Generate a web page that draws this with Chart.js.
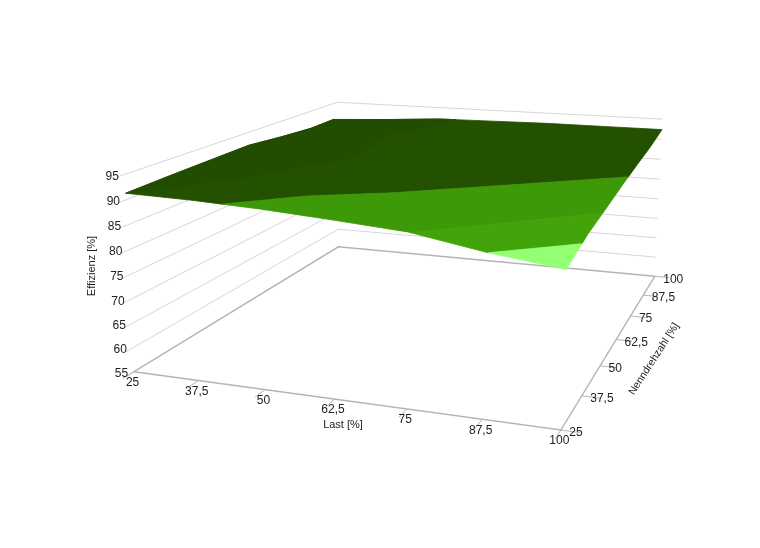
<!DOCTYPE html>
<html>
<head>
<meta charset="utf-8">
<title>Effizienz</title>
<script src="https://cdn.jsdelivr.net/npm/chart.js@4"></script>
<style>
  html, body { margin: 0; padding: 0; background: #fff; }
  canvas { display: block; }
</style>
</head>
<body>
<canvas id="chart" width="760" height="548"></canvas>
<script>
// axis ticks
const lastTicks = [25, 37.5, 50, 62.5, 75, 87.5, 100];
const speedTicks = [25, 37.5, 50, 62.5, 75, 87.5, 100];
const effTicks = [55, 60, 65, 70, 75, 80, 85, 90, 95];

// efficiency, one row per speed tick, one column per load tick
const effRow25 = [91.3, 91.0, 90.4, 89.5, 88.5, 86.1, 84.3];
const effRow37 = [91.6, 91.5, 91.2, 90.7, 90.0, 88.5, 86.4];
const effRow50 = [91.8, 91.8, 91.6, 91.2, 90.6, 89.5, 87.6];
const effRow62 = [92.0, 92.0, 91.9, 91.6, 91.2, 90.2, 88.9];
const effRow75 = [91.2, 91.8, 92.0, 91.9, 91.6, 90.8, 90.0];
const effRow87 = [90.6, 91.4, 92.0, 92.1, 92.0, 91.6, 91.0];
const effRow100 = [90.3, 91.1, 92.0, 92.2, 92.4, 92.4, 92.4];
const effGrid = [effRow25, effRow37, effRow50, effRow62, effRow75, effRow87, effRow100];

// colour bands on the surface as [load, speed] outlines
const bandDark = [[25,25],[37.5,25],[43,25],[53.5,33.5],[66,40],[100,67],[100,75],[100,87.5],[100,100],
  [87.5,100],[75,100],[62.5,100],[50,100],[37.5,100],[24,100],[25,87.5],[25,75],[25,62.5],[25,50],[25,37.5]];
const bandDarker = [[25,25],[37.5,39],[49,58],[47,80],[54,100],[50,100],[37.5,100],[24,100],
  [25,87.5],[25,75],[25,62.5],[25,50],[25,37.5]];
const bandMid = [[43,25],[50,25],[62.5,25],[75,25],[75.5,25],[100,47.5],[100,50],[100,62.5],[100,67],[66,40],[53.5,33.5]];
const bandBright = [[75.5,25],[87.5,25],[88,25],[100,34],[100,37.5],[100,47.5]];
const bandLight = [[88,25],[100,25],[100,34]];

// where known 3d points land on the page, used to fit the camera: load, speed, eff, px, py, weight
const camPoints = [
  [25,25,55,135,372,4],[37.5,25,55,195,380,1],[50,25,55,263,389,1],[62.5,25,55,333,398,1],[75,25,55,406,407.5,1],
  [87.5,25,55,482,417.5,1],[100,25,55,563,428,4],[100,37.5,55,583,397,1],[100,50,55,599,369,1],[100,62.5,55,614,345,1],
  [100,75,55,628,322,1],[100,100,55,655,275,4],[25,100,55,338,247,4],
  [25,25,95,124,175,4],[25,100,95,338,102,4],[100,100,95,662,119,4],
  [25,25,75,130,275,2],[100,100,75,659,199,2],[25,100,75,338,175,2]
];

function solve(A, b) {
  const n = b.length;
  for (let i = 0; i < n; i++) {
    let p = i;
    for (let r = i + 1; r < n; r++) if (Math.abs(A[r][i]) > Math.abs(A[p][i])) p = r;
    [A[i], A[p]] = [A[p], A[i]];
    [b[i], b[p]] = [b[p], b[i]];
    for (let r = i + 1; r < n; r++) {
      const f = A[r][i] / A[i][i];
      for (let c = i; c < n; c++) A[r][c] -= f * A[i][c];
      b[r] -= f * b[i];
    }
  }
  const x = new Array(n).fill(0);
  for (let i = n - 1; i >= 0; i--) {
    let s = b[i];
    for (let c = i + 1; c < n; c++) s -= A[i][c] * x[c];
    x[i] = s / A[i][i];
  }
  return x;
}

function norm(l, s, e) {
  return [(l - 25) / 75, (s - 25) / 75, (e - 55) / 40];
}

// least squares fit of a 3x4 projection
function fitCamera() {
  const A = Array.from({length: 11}, () => new Array(11).fill(0));
  const b = new Array(11).fill(0);
  const add = (row, rhs, wt) => {
    for (let i = 0; i < 11; i++) {
      b[i] += wt * row[i] * rhs;
      for (let j = 0; j < 11; j++) A[i][j] += wt * row[i] * row[j];
    }
  };
  camPoints.forEach(p => {
    const [u, v, h] = norm(p[0], p[1], p[2]);
    const px = p[3] / 100, py = p[4] / 100;
    add([u, v, h, 1, 0, 0, 0, 0, -px * u, -px * v, -px * h], px, p[5]);
    add([0, 0, 0, 0, u, v, h, 1, -py * u, -py * v, -py * h], py, p[5]);
  });
  return solve(A, b);
}
const cam = fitCamera();

function project(l, s, e) {
  const [u, v, h] = norm(l, s, e);
  const w = cam[8] * u + cam[9] * v + cam[10] * h + 1;
  return {
    x: 100 * (cam[0] * u + cam[1] * v + cam[2] * h + cam[3]) / w,
    y: 100 * (cam[4] * u + cam[5] * v + cam[6] * h + cam[7]) / w
  };
}

// efficiency at any load/speed, from the grid
function effAt(l, s) {
  const fx = Math.max(0, Math.min((l - 25) / 12.5, 5.999)), fy = Math.max(0, Math.min((s - 25) / 12.5, 5.999));
  const ix = Math.floor(fx), iy = Math.floor(fy);
  const tx = fx - ix, ty = fy - iy;
  return (effGrid[iy][ix] * (1 - tx) + effGrid[iy][ix + 1] * tx) * (1 - ty) +
         (effGrid[iy + 1][ix] * (1 - tx) + effGrid[iy + 1][ix + 1] * tx) * ty;
}

function bandSet(outline, colour) {
  const pts = outline.map(p => project(p[0], p[1], effAt(p[0], p[1])));
  pts.push(pts[0]);
  return {
    data: pts, showLine: true, tension: 0, pointRadius: 0,
    fill: 'shape', backgroundColor: colour, borderColor: colour, borderWidth: 0.8
  };
}

function lineSet(pts, colour, width) {
  return {data: pts, showLine: true, tension: 0, pointRadius: 0, fill: false, borderColor: colour, borderWidth: width};
}

// first dataset ends up on top
const datasets = [
  bandSet(bandDarker, '#224d00'),
  bandSet(bandLight, '#93ff73'),
  bandSet(bandBright, '#43a30a'),
  bandSet(bandMid, '#3e9908'),
  bandSet(bandDark, '#245100')
];

const lo = lastTicks[0], hi = lastTicks[6], slo = speedTicks[0], shi = speedTicks[6], base = effTicks[0];
// walls
effTicks.slice(1).forEach(e => {
  datasets.push(lineSet([project(lo, slo - 2, e), project(lo, shi, e), project(hi, shi, e)], '#d6d6d6', 1));
});
// floor outline
datasets.push(lineSet([project(lo, slo, base), project(lo, shi, base), project(hi, shi, base)], '#b4b4b4', 1.4));
datasets.push(lineSet([project(lo, slo, base), project(hi, slo, base), project(hi, shi, base)], '#b4b4b4', 1.4));
// tick stubs
lastTicks.forEach(l => datasets.push(lineSet([project(l, slo, base), project(l, slo - 3, base)], '#b4b4b4', 1)));
speedTicks.forEach(s => datasets.push(lineSet([project(hi, s, base), project(hi + 3, s, base)], '#b4b4b4', 1)));
datasets.push(lineSet([project(lo, slo, base), project(lo, slo - 2, base)], '#b4b4b4', 1));

const axisLabels = {
  id: 'axisLabels',
  afterDraw(chart) {
    const c = chart.ctx;
    const label = (txt, x, y, align) => {
      c.textAlign = align;
      c.fillText(txt, x, y);
    };
    c.save();
    c.font = '12px "Liberation Sans", Arial, sans-serif';
    c.fillStyle = '#222';
    c.textBaseline = 'middle';
    effTicks.forEach(e => {
      const p = project(lo, slo, e);
      label(String(e), p.x - 6, p.y + 2, 'right');
    });
    lastTicks.forEach(l => {
      const p = project(l, slo, base);
      label(String(l).replace('.', ','), p.x - 1.5, p.y + 11, 'center');
    });
    speedTicks.forEach(s => {
      const p = project(hi, s, base);
      label(String(s).replace('.', ','), p.x + 8.5, p.y + 3, 'left');
    });
    c.font = '11px "Liberation Sans", Arial, sans-serif';
    label('Last [%]', 343, 425, 'center');
    c.translate(92, 266);
    c.rotate(-Math.PI / 2);
    label('Effizienz [%]', 0, 0, 'center');
    c.rotate(Math.PI / 2);
    c.translate(654 - 92, 359 - 266);
    c.rotate(-57 * Math.PI / 180);
    c.font = '10.5px "Liberation Sans", Arial, sans-serif';
    label('Nenndrehzahl [%]', 0, 0, 'center');
    c.restore();
  }
};

new Chart(document.getElementById('chart'), {
  type: 'scatter',
  data: {datasets},
  options: {
    responsive: false,
    animation: false,
    layout: {padding: 0},
    plugins: {legend: {display: false}, tooltip: {enabled: false}},
    scales: {
      x: {type: 'linear', display: false, min: 0, max: 760},
      y: {type: 'linear', display: false, min: 0, max: 548, reverse: true}
    }
  },
  plugins: [axisLabels]
});
</script>
</body>
</html>
